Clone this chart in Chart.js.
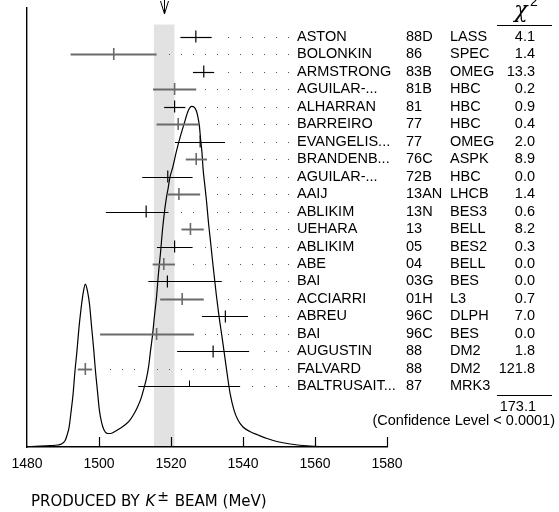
<!DOCTYPE html>
<html><head><meta charset="utf-8">
<script src="https://cdn.jsdelivr.net/npm/chart.js@4"></script>
<style>html,body{margin:0;padding:0;background:#fff;}canvas{display:block}</style>
</head><body>
<canvas id="c" width="559" height="512"></canvas>
<script>
// ---- data ----
const authors = ['ASTON','BOLONKIN','ARMSTRONG','AGUILAR-...','ALHARRAN','BARREIRO','EVANGELIS...','BRANDENB...','AGUILAR-...','AAIJ','ABLIKIM','UEHARA','ABLIKIM','ABE','BAI','ACCIARRI','ABREU','BAI','AUGUSTIN','FALVARD','BALTRUSAIT...'];
const years = ['88D','86','83B','81B','81','77','77','76C','72B','13AN','13N','13','05','04','03G','01H','96C','96C','88','88','87'];
const experiments = ['LASS','SPEC','OMEG','HBC','HBC','HBC','OMEG','ASPK','HBC','LHCB','BES3','BELL','BES2','BELL','BES','L3','DLPH','BES','DM2','DM2','MRK3'];
const chi2 = ['4.1','1.4','13.3','0.2','0.9','0.4','2.0','8.9','0.0','1.4','0.6','8.2','0.3','0.0','0.0','0.7','7.0','0.0','1.8','121.8',''];
const centers = [1526.9,1504.1,1529.1,1521.0,1521.0,1522.0,1528.1,1527.0,1519.1,1522.2,1513.1,1525.4,1521.0,1518.0,1519.0,1523.1,1535.1,1516.0,1531.7,1496.2,1525.1];
const errLow  = [4.3,12.0,3.0,6.0,2.9,6.0,7.0,2.9,7.1,3.2,11.2,2.5,4.9,3.1,5.3,6.1,6.5,15.7,10.0,2.1,14.2];
const errHigh = [4.4,11.9,2.9,6.0,3.0,5.8,6.9,3.0,6.9,5.9,6.2,3.7,5.0,3.1,15.1,6.0,6.3,10.4,10.0,1.9,14.1];
const usedInFit = [true,true,true,true,true,true,true,true,true,true,true,true,true,true,true,true,true,true,true,true,false];
const curveMass = [1480.0,1483.6,1486.4,1488.6,1489.7,1490.6,1491.1,1491.7,1492.2,1492.8,1493.3,1493.9,1494.4,1495.0,1495.6,1496.2,1496.8,1497.4,1497.9,1498.5,1499.0,1499.6,1500.1,1500.7,1501.4,1502.2,1503.1,1504.4,1505.8,1507.2,1508.6,1509.7,1510.7,1511.7,1512.5,1513.2,1513.8,1514.3,1514.9,1515.4,1516.0,1516.5,1517.1,1517.6,1518.2,1518.7,1519.2,1519.7,1520.5,1521.5,1522.6,1523.8,1524.7,1525.75,1526.5,1527.1,1527.5,1527.9,1528.2,1528.6,1528.9,1529.4,1529.9,1530.4,1531.0,1531.7,1532.6,1533.3,1534.3,1535.3,1536.4,1537.5,1538.6,1540.0,1541.9,1544.2,1546.7,1549.4,1553.1,1558.6,1566.9,1580.0];
const curveDensity = [0.4,0.8,1.3,2.0,3.2,6.5,11.5,20,34,53,75,97,118,138,154,163,156,142,122,99,77,55,37,25,17,13.7,13.5,15.5,18.5,22,27,33,40,49,59,69,81,96,113,131,151,173,195,216,236,249,259,270,280.3,296,311,325.5,336,341,340,336,330,321,309,295,279,262,245,225,205,181,152,132,107,81,54,37,27,20,15.5,12,8.5,5.5,3,1,0.3,0];
const xTicks = [1480,1500,1520,1540,1560,1580];
const average = 1518.1;
const averageErr = 2.85;
const chi2Total = '173.1';
const confidenceText = '(Confidence Level < 0.0001)';

// ---- drawing ----
const BLACK = '#000', GREY = '#6a6a6a';
const rowColor = authors.map((a,i)=> i%2===0 ? BLACK : GREY);
const rowWidth = authors.map((a,i)=> i%2===0 ? 1.2 : 1.9);
const FONT = '"Liberation Sans", Arial, Helvetica, sans-serif';
const ROWFONT = '14.5px ' + FONT;

function rowY(chart,i){ return chart.scales.y.getPixelForValue(i); }

function curveCrossings(chart, y){
  const pts = chart.getDatasetMeta(0).data;
  const xs = [];
  for(let k=1;k<pts.length;k++){
    const a=pts[k-1], b=pts[k];
    if((a.y-y)*(b.y-y) <= 0 && a.y!==b.y){
      xs.push(a.x + (y-a.y)*(b.x-a.x)/(b.y-a.y));
    }
  }
  return xs;
}

const ideogramPlugin = {
  id:'ideogram',
  beforeDatasetsDraw(chart){
    const {ctx, scales:{x}, chartArea} = chart;
    ctx.save();
    ctx.fillStyle = '#e2e2e2';
    const x0 = x.getPixelForValue(average-averageErr), x1 = x.getPixelForValue(average+averageErr);
    const yTop = chart.scales.y.getPixelForValue(-0.685);
    ctx.fillRect(x0, yTop, x1-x0, chartArea.bottom - 1 - yTop);
    ctx.restore();
  },
  afterDatasetsDraw(chart){
    const {ctx, scales:{x,y}, chartArea} = chart;
    ctx.save();
    // inner tick marks
    ctx.strokeStyle = BLACK; ctx.lineWidth = 1.2;
    xTicks.forEach(v=>{
      if(v===x.min) return;
      const px = Math.round(x.getPixelForValue(v))+0.5;
      ctx.beginPath(); ctx.moveTo(px, chartArea.bottom); ctx.lineTo(px, chartArea.bottom-10); ctx.stroke();
    });
    // error bars, leaders and text columns
    const nameX = 297, yearX = 406, expX = 450, chiX = 535;
    centers.forEach((c,i)=>{
      const py = Math.round(rowY(chart,i))+0.5;
      const l = x.getPixelForValue(c-errLow[i]), r = x.getPixelForValue(c+errHigh[i]);
      ctx.strokeStyle = rowColor[i]; ctx.lineWidth = rowWidth[i];
      ctx.beginPath(); ctx.moveTo(l,py); ctx.lineTo(r,py); ctx.stroke();
      if(!usedInFit[i]){
        const cx = Math.round(x.getPixelForValue(c))+0.5;
        ctx.lineWidth = 1;
        ctx.beginPath(); ctx.moveTo(cx,py); ctx.lineTo(cx,py-6); ctx.stroke();
      }
      const cross = curveCrossings(chart, py);
      ctx.fillStyle = '#555';
      for(let k=0;k<16;k++){
        const dx = nameX - 9.3 - 11.85*k;
        if(dx < r + 7) continue;
        if(cross.some(cx=>Math.abs(cx-dx)<5)) continue;
        ctx.fillRect(Math.round(dx), py-0.5, 1, 1);
      }
      ctx.fillStyle = BLACK;
      ctx.font = ROWFONT;
      ctx.textBaseline = 'middle';
      ctx.textAlign = 'left';
      ctx.fillText(authors[i], nameX, py-0.5);
      ctx.fillText(years[i], yearX, py-0.5);
      ctx.fillText(experiments[i], expX, py-0.5);
      ctx.textAlign = 'right';
      ctx.fillText(chi2[i], chiX, py-0.5);
    });
    // chi2 header
    ctx.fillStyle = BLACK; ctx.strokeStyle = BLACK;
    ctx.textAlign = 'center'; ctx.textBaseline = 'alphabetic';
    ctx.font = 'italic 22px "DejaVu Serif", serif';
    ctx.fillText('\u03C7', 521, 17);
    ctx.font = '14px ' + FONT;
    ctx.fillText('2', 534, 6);
    ctx.lineWidth = 1.2;
    ctx.beginPath(); ctx.moveTo(497, 25.5); ctx.lineTo(552, 25.5); ctx.stroke();
    const last = authors.length-1;
    const lastY = Math.round(rowY(chart, last) + 9) + 0.5;
    ctx.beginPath(); ctx.moveTo(497, lastY); ctx.lineTo(552, lastY); ctx.stroke();
    ctx.textAlign = 'right'; ctx.textBaseline = 'middle';
    ctx.font = ROWFONT;
    ctx.fillText(chi2Total, chiX + 1, rowY(chart, last)+21);
    ctx.fillText(confidenceText, 555, rowY(chart, last)+35);
    // arrow at the average
    const ax = Math.round(x.getPixelForValue(average))+0.5;
    ctx.lineWidth = 1;
    ctx.beginPath();
    ctx.moveTo(ax, 0); ctx.lineTo(ax, 14);
    ctx.moveTo(ax-4, 1); ctx.lineTo(ax, 14); ctx.lineTo(ax+4, 1);
    ctx.stroke();
    // x title
    let tx = 31, ty = 506;
    ctx.textAlign = 'left'; ctx.textBaseline = 'alphabetic';
    ctx.font = '15px "DejaVu Sans", sans-serif';
    ctx.fillText('PRODUCED BY ', tx, ty); tx += ctx.measureText('PRODUCED BY ').width + 1;
    ctx.font = 'italic 15px "DejaVu Sans", sans-serif';
    ctx.fillText('K', tx, ty); tx += ctx.measureText('K').width + 2;
    ctx.font = '14px "DejaVu Sans", sans-serif';
    ctx.fillText('\u00B1', tx, ty-5); tx += ctx.measureText('\u00B1').width + 1;
    ctx.font = '15px "DejaVu Sans", sans-serif';
    ctx.fillText(' BEAM (MeV)', tx, ty);
    ctx.restore();
  }
};

new Chart(document.getElementById('c'), {
  type:'scatter',
  data:{datasets:[
    {label:'ideogram', data: curveMass.map((m,i)=>({x:m,y:curveDensity[i]})), yAxisID:'yc', showLine:true,
     borderColor:BLACK, borderWidth:1.2, pointRadius:0, cubicInterpolationMode:'monotone', fill:false},
    {label:'measurements', data: centers.map((c,i)=>({x:c,y:i})), yAxisID:'y',
     pointStyle:'line', rotation:90, pointRadius: usedInFit.map(u=>u?6:0), pointHoverRadius:0,
     borderColor: rowColor, pointBorderColor: rowColor, pointBorderWidth: rowWidth.map(w=>w>1.5?1.6:1.2), showLine:false}
  ]},
  options:{
    responsive:false, animation:false, devicePixelRatio:1,
    layout:{padding:{left:27,right:172,top:7,bottom:0}},
    plugins:{legend:{display:false}, tooltip:{enabled:false}},
    scales:{
      x:{type:'linear', min:1480, max:1580,
         afterBuildTicks:s=>{s.ticks = xTicks.map(v=>({value:v}));},
         grid:{display:false, drawTicks:false},
         border:{display:true, color:BLACK, width:1.4},
         ticks:{font:{family:FONT, size:14}, color:BLACK, padding:9, maxRotation:0, autoSkip:false, callback:v=>String(v)},
         afterFit:s=>{s.height = 65;}},
      y:{type:'linear', reverse:true, min:-1.655, max:23.46,
         grid:{display:false, drawTicks:false}, border:{display:true, color:BLACK, width:1.4},
         ticks:{display:false}, afterFit:s=>{s.width = 0;}},
      yc:{type:'linear', min:0, max:440, display:false}
    }
  },
  plugins:[ideogramPlugin]
});
</script>
</body></html>
